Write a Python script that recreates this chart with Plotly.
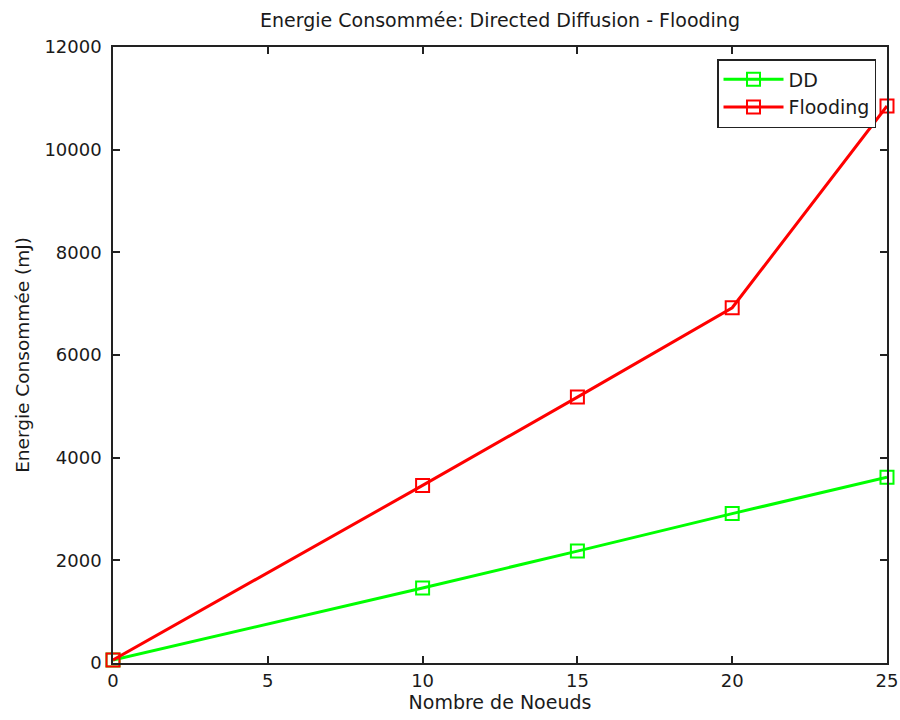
import plotly.graph_objects as go

nodes = [0, 10, 15, 20, 25]
dd_energy = [60, 1460, 2180, 2910, 3620]
flooding_energy = [60, 3460, 5180, 6920, 10850]

x_ticks = [0, 5, 10, 15, 20, 25]
y_ticks = [0, 2000, 4000, 6000, 8000, 10000, 12000]

font_family = "DejaVu Sans, Arial, sans-serif"
txt = "#1a1a1a"

fig = go.Figure()
fig.add_trace(go.Scatter(
    x=nodes, y=dd_energy, name="DD", mode="lines+markers",
    line=dict(color="#00ff00", width=3),
    marker=dict(symbol="square-open", size=13, color="#00ff00", line=dict(width=2, color="#00ff00")),
    cliponaxis=False,
))
fig.add_trace(go.Scatter(
    x=nodes, y=flooding_energy, name="Flooding", mode="lines+markers",
    line=dict(color="#ff0000", width=3),
    marker=dict(symbol="square-open", size=13, color="#ff0000", line=dict(width=2, color="#ff0000")),
    cliponaxis=False,
))

axis_common = dict(
    showgrid=False, zeroline=False, showline=True, linecolor="#222", linewidth=1.5,
    mirror="ticks", ticks="inside", ticklen=7, tickwidth=1.5, tickcolor="#222",
    tickfont=dict(family=font_family, size=18, color=txt),
    automargin=False,
)

fig.update_layout(
    width=900, height=720,
    paper_bgcolor="white", plot_bgcolor="white",
    margin=dict(l=113, r=13, t=47, b=57),
    title=dict(text="Energie Consommée: Directed Diffusion - Flooding",
               xref="paper", x=0.5, xanchor="center",
               yref="container", y=0.972, yanchor="middle",
               font=dict(family=font_family, size=19, color=txt),
               automargin=False),
    xaxis=dict(range=[0, 25], tickvals=x_ticks, tickformat="d", ticklabelstandoff=1,
               title=dict(text="Nombre de Noeuds", standoff=5,
                          font=dict(family=font_family, size=19, color=txt)),
               **axis_common),
    yaxis=dict(range=[0, 12000], tickvals=y_ticks, tickformat="d", ticklabelstandoff=6,
               title=dict(text="Energie Consommée (mJ)", standoff=10,
                          font=dict(family=font_family, size=18.5, color=txt)),
               **axis_common),
    legend=dict(x=0.9858, y=0.9805, xanchor="right", yanchor="top",
                bgcolor="white", bordercolor="#222", borderwidth=1.5,
                font=dict(family=font_family, size=19, color=txt),
                itemwidth=60),
    showlegend=True,
)

fig.write_html("out.html", config={"displayModeBar": False},
               post_script="document.body.style.margin='0';document.body.style.overflow='hidden';")
